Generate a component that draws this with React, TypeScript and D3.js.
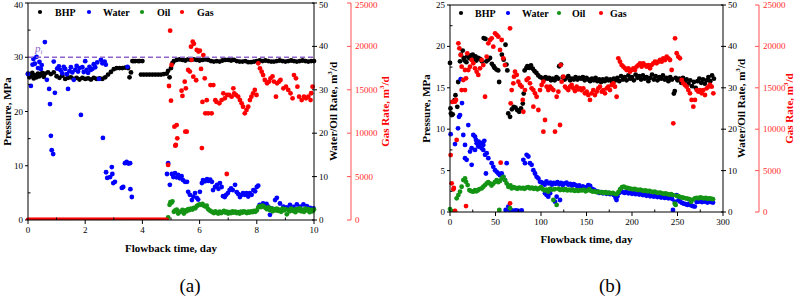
import * as d3 from "d3";

type Pt = [number, number];

// ---------- panel (a): days, MPa, m3/d ----------
const A_BHP: Pt[] = [
  [0, 27.0], [0.05, 26.3], [0.1, 26.6], [0.15, 27.1], [0.2, 26.1], [0.25, 26.7], [0.3, 26.3], [0.35, 27.0],
  [0.4, 26.5], [0.45, 26.9], [0.5, 27.1], [0.55, 26.4], [0.6, 27.0], [0.7, 27.2], [0.8, 26.9], [0.9, 27.2],
  [1.0, 26.5], [1.1, 26.2], [1.2, 26.6], [1.3, 26.0], [1.4, 26.2], [1.5, 26.3], [1.6, 26.0], [1.7, 26.2],
  [1.8, 25.9], [1.9, 26.2], [2.0, 26.0], [2.1, 26.1], [2.2, 25.9], [2.3, 26.2], [2.4, 26.0], [2.5, 26.1],
  [2.6, 26.0], [2.7, 26.3], [2.8, 26.8], [2.9, 27.3], [3.0, 27.8], [3.1, 28.0], [3.2, 28.0], [3.3, 28.0],
  [3.4, 28.1], [3.5, 28.0], [3.55, 26.3], [3.6, 27.2], [3.65, 29.3], [3.7, 29.3], [3.75, 29.3], [3.85, 29.3],
  [3.9, 29.3], [3.95, 26.8], [4.0, 29.3], [4.05, 26.8], [4.15, 26.8], [4.25, 26.8], [4.35, 26.8], [4.45, 26.8],
  [4.55, 26.8], [4.65, 26.8], [4.75, 26.9], [4.85, 27.0], [4.9, 27.5], [4.95, 26.3], [5.0, 28.0], [5.05, 28.9],
  [5.1, 29.3], [5.2, 29.5], [5.3, 29.6], [5.4, 29.5], [5.5, 29.4], [5.6, 29.6], [5.7, 29.5], [5.8, 29.6],
  [5.9, 29.5], [6.0, 29.4], [6.1, 29.5], [6.2, 29.6], [6.3, 29.5], [6.4, 29.3], [6.5, 29.2], [6.6, 29.3],
  [6.7, 29.2], [6.8, 29.4], [6.9, 29.5], [7.0, 29.5], [7.1, 29.4], [7.2, 29.5], [7.3, 29.3], [7.4, 29.2],
  [7.5, 29.2], [7.6, 29.3], [7.7, 29.1], [7.8, 29.1], [7.9, 29.2], [8.0, 29.3], [8.1, 29.4], [8.2, 29.3],
  [8.3, 29.4], [8.4, 29.3], [8.5, 29.2], [8.6, 29.2], [8.7, 29.3], [8.8, 29.4], [8.9, 29.3], [9.0, 29.2],
  [9.1, 29.3], [9.2, 29.4], [9.3, 29.3], [9.4, 29.2], [9.5, 29.3], [9.6, 29.4], [9.7, 29.3], [9.8, 29.2],
  [9.9, 29.3], [10.0, 29.3],
];

const A_WATER: Pt[] = [
  [0.0, 33.6], [0.1, 30.9], [0.16, 35.8], [0.19, 37.1], [0.24, 36.0], [0.3, 37.6], [0.35, 35.0], [0.4, 36.4],
  [0.45, 34.8], [0.48, 35.7], [0.59, 41.0], [0.66, 32.3], [0.74, 30.2], [0.77, 26.7], [0.8, 19.4], [0.83, 16.1],
  [0.88, 15.2], [0.9, 36.5], [0.94, 29.3], [1.02, 34.9], [1.08, 35.4], [1.14, 34.5], [1.2, 33.8], [1.25, 35.3],
  [1.3, 34.8], [1.36, 33.6], [1.4, 30.2], [1.45, 34.3], [1.5, 35.2], [1.55, 34.0], [1.6, 32.3], [1.65, 34.6],
  [1.7, 35.5], [1.75, 34.2], [1.8, 35.0], [1.85, 24.2], [1.9, 35.2], [1.95, 34.1], [2.0, 36.6], [2.05, 34.6],
  [2.1, 33.9], [2.15, 35.3], [2.2, 34.6], [2.25, 34.8], [2.3, 35.9], [2.35, 35.2], [2.42, 36.3], [2.48, 32.5],
  [2.55, 36.9], [2.6, 36.1], [2.62, 18.9], [2.68, 36.5], [2.72, 35.8], [2.73, 11.0], [2.77, 9.7], [2.87, 9.9],
  [2.93, 12.2], [2.95, 10.6], [2.98, 8.5], [3.04, 8.8], [3.28, 7.4], [3.33, 7.6], [3.39, 13.1], [3.45, 13.4],
  [3.48, 35.3], [3.51, 13.0], [3.57, 13.1], [3.58, 7.1], [3.63, 5.3], [4.86, 10.6], [4.9, 13.1], [4.96, 8.1],
  [5.03, 10.6], [5.08, 9.9], [5.14, 10.8], [5.2, 9.8], [5.25, 10.4], [5.31, 9.6], [5.37, 10.1], [5.42, 9.2],
  [5.49, 8.8], [5.56, 8.8], [5.6, 6.5], [5.66, 5.8], [5.73, 4.6], [5.78, 5.4], [5.84, 6.2], [5.9, 5.1],
  [5.95, 4.7], [6.01, 6.5], [6.08, 8.5], [6.12, 9.2], [6.19, 8.9], [6.26, 9.4], [6.31, 9.0], [6.37, 9.3],
  [6.43, 8.8], [6.47, 6.9], [6.54, 7.6], [6.61, 8.1], [6.66, 7.2], [6.71, 8.5], [6.77, 7.6], [6.82, 5.5],
  [6.88, 5.3], [6.93, 5.8], [6.99, 6.2], [7.05, 6.9], [7.1, 7.3], [7.16, 6.9], [7.24, 8.1], [7.3, 6.4],
  [7.35, 6.0], [7.41, 5.3], [7.47, 5.8], [7.52, 6.2], [7.58, 5.8], [7.64, 6.2], [7.7, 5.4], [7.76, 6.2],
  [7.82, 5.8], [7.88, 6.9], [7.94, 6.6], [8.0, 7.6], [8.05, 7.9], [8.1, 3.5], [8.22, 3.8], [8.34, 3.7],
  [8.4, 3.1], [8.46, 1.2], [8.52, 2.7], [8.64, 4.6], [8.7, 5.1], [8.81, 3.8], [8.93, 3.1], [9.05, 2.9],
  [9.16, 3.5], [9.28, 3.0], [9.4, 3.6], [9.51, 3.1], [9.63, 3.6], [9.75, 3.2], [9.86, 2.8], [9.98, 2.7],
];

const A_OIL: Pt[] = [
  [4.9, 0.6], [4.95, 3.5], [4.98, 4.1], [5.02, 4.0], [5.05, 4.3], [5.1, 1.9], [5.15, 2.2], [5.2, 2.4],
  [5.25, 1.5], [5.3, 1.8], [5.35, 2.0], [5.4, 2.3], [5.45, 1.5], [5.5, 2.2], [5.55, 2.0], [5.6, 2.5],
  [5.65, 2.3], [5.7, 2.6], [5.75, 2.4], [5.8, 2.8], [5.85, 2.7], [5.9, 3.2], [5.95, 3.4], [6.0, 3.6],
  [6.05, 3.5], [6.1, 3.7], [6.15, 3.3], [6.2, 3.1], [6.25, 3.3], [6.3, 2.5], [6.35, 2.2], [6.4, 2.0],
  [6.45, 1.8], [6.5, 1.6], [6.55, 2.0], [6.6, 1.7], [6.65, 1.5], [6.7, 1.9], [6.75, 1.6], [6.8, 1.8],
  [6.85, 2.1], [6.9, 1.7], [6.95, 1.9], [7.0, 1.5], [7.05, 1.8], [7.1, 1.6], [7.15, 2.0], [7.2, 1.7],
  [7.25, 1.9], [7.3, 1.6], [7.35, 1.8], [7.4, 1.5], [7.45, 1.9], [7.5, 1.7], [7.55, 2.0], [7.6, 1.8],
  [7.65, 1.6], [7.7, 1.9], [7.75, 1.7], [7.8, 2.0], [7.85, 1.8], [7.9, 2.1], [7.95, 1.9], [8.0, 2.2],
  [8.05, 2.9], [8.1, 3.2], [8.15, 3.0], [8.2, 3.3], [8.25, 3.1], [8.3, 2.8], [8.35, 2.5], [8.4, 2.9],
  [8.45, 2.3], [8.5, 2.7], [8.55, 2.0], [8.6, 2.5], [8.65, 2.2], [8.7, 2.6], [8.75, 2.1], [8.8, 2.4],
  [8.85, 1.9], [8.9, 2.6], [8.95, 2.2], [9.0, 2.5], [9.05, 1.3], [9.1, 2.3], [9.15, 2.0], [9.2, 2.6],
  [9.25, 2.1], [9.3, 2.4], [9.35, 1.8], [9.4, 2.5], [9.45, 2.2], [9.5, 2.7], [9.55, 2.0], [9.6, 2.4],
  [9.65, 1.9], [9.7, 2.6], [9.75, 2.2], [9.8, 2.5], [9.85, 1.8], [9.9, 2.3], [9.95, 2.0], [10.0, 2.4],
];

const A_GAS: Pt[] = [
  [0, 0], [0.05, 0], [0.1, 0], [0.15, 0], [0.2, 0], [0.25, 0], [0.3, 0], [0.35, 0], [0.4, 0], [0.45, 0],
  [0.5, 0], [0.55, 0], [0.6, 0], [0.65, 0], [0.7, 0], [0.75, 0], [0.8, 0], [0.85, 0], [0.9, 0], [0.95, 0],
  [1.0, 0], [1.05, 0], [1.1, 0], [1.15, 0], [1.2, 0], [1.25, 0], [1.3, 0], [1.35, 0], [1.4, 0], [1.45, 0],
  [1.5, 0], [1.55, 0], [1.6, 0], [1.65, 0], [1.7, 0], [1.75, 0], [1.8, 0], [1.85, 0], [1.9, 0], [1.95, 0],
  [2.0, 0], [2.05, 0], [2.1, 0], [2.15, 0], [2.2, 0], [2.25, 0], [2.3, 0], [2.35, 0], [2.4, 0], [2.45, 0],
  [2.5, 0], [2.55, 0], [2.6, 0], [2.65, 0], [2.7, 0], [2.75, 0], [2.8, 0], [2.85, 0], [2.9, 0], [2.95, 0],
  [3.0, 0], [3.05, 0], [3.1, 0], [3.15, 0], [3.2, 0], [3.25, 0], [3.3, 0], [3.35, 0], [3.4, 0], [3.45, 0],
  [3.5, 0], [3.55, 0], [3.6, 0], [3.65, 0], [3.7, 0], [3.75, 0], [3.8, 0], [3.85, 0], [3.9, 0], [3.95, 0],
  [4.0, 0], [4.05, 0], [4.1, 0], [4.15, 0], [4.2, 0], [4.25, 0], [4.3, 0], [4.35, 0], [4.4, 0], [4.45, 0],
  [4.5, 0], [4.55, 0], [4.6, 0], [4.65, 0], [4.7, 0], [4.75, 0], [4.8, 0], [4.85, 0],
  [4.9, 6340], [4.93, 15440], [4.97, 21810], [5.0, 13750], [5.02, 17860], [5.12, 10750], [5.15, 8560],
  [5.17, 8640], [5.2, 10940], [5.22, 9410], [5.37, 14900], [5.4, 14300], [5.48, 15940], [5.5, 10170],
  [5.52, 15170], [5.55, 10170], [5.6, 17280], [5.66, 17100], [5.7, 19970], [5.72, 18450], [5.76, 20540],
  [5.78, 16510], [5.8, 20300], [5.88, 16100], [5.9, 19590], [5.96, 19400], [6.01, 19500], [6.05, 17400],
  [6.08, 8290], [6.1, 13600], [6.13, 19000], [6.18, 16320], [6.2, 12290], [6.25, 13800], [6.3, 12290],
  [6.38, 15550], [6.42, 12290], [6.48, 15550], [6.55, 13800], [6.59, 13600], [6.69, 13440], [6.77, 13820],
  [6.83, 14590], [6.88, 14020], [6.95, 5300], [6.96, 14400], [7.03, 14400], [7.12, 14210], [7.18, 15170],
  [7.21, 14590], [7.27, 14400], [7.35, 14210], [7.41, 13820], [7.47, 13440], [7.52, 13050], [7.58, 12290],
  [7.64, 12670], [7.7, 13050], [7.76, 13820], [7.81, 14210], [7.87, 14590], [7.93, 14980], [7.99, 14400],
  [8.05, 18050], [8.11, 17470], [8.17, 17090], [8.22, 16700], [8.28, 16130], [8.36, 15750], [8.43, 15950],
  [8.48, 16320], [8.55, 16550], [8.6, 15950], [8.67, 14210], [8.71, 15750], [8.78, 15950], [8.83, 16130],
  [8.93, 15170], [9.02, 15360], [9.1, 14980], [9.18, 14590], [9.25, 14020], [9.3, 16700], [9.37, 16320],
  [9.42, 15360], [9.48, 14210], [9.57, 13820], [9.65, 14210], [9.72, 14020], [9.8, 14210], [9.88, 13820],
  [9.9, 14600], [9.95, 15360],
];

// ---------- panel (b) ----------
const B_BHP: Pt[] = [
  [0, 18.0], [0.5, 12.5], [1, 11.9], [2, 11.7], [3, 11.8], [5, 13.5], [6, 14.1], [8, 12.7], [9, 15.7],
  [11, 18.2], [12, 19.0], [14, 19.5], [15, 18.6], [16, 18.3], [18, 18.1], [19, 18.8], [21, 18.6], [23, 18.9],
  [24, 18.4], [25, 19.0], [27, 18.5], [28, 18.8], [29, 18.3], [31, 18.6], [33, 18.5], [35, 18.2], [37, 21.0],
  [39, 20.9], [40, 18.2], [42, 18.4], [44, 18.6], [46, 17.9], [48, 17.6], [49, 17.4], [51, 17.2], [53, 17.1],
  [54, 15.7], [57, 19.0], [59, 18.4], [61, 20.2], [62, 17.8], [63, 17.1], [64, 11.9], [66, 11.5], [68, 12.4],
  [70, 12.7], [72, 12.6], [74, 12.3], [76, 12.1], [78, 12.5], [80, 13.1], [81, 14.3], [82, 17.1], [84, 17.4],
  [85, 17.6], [87, 17.4], [89, 17.7], [91, 17.3], [93, 17.0], [95, 16.8], [97, 16.5], [99, 16.3], [101, 16.2],
  [103, 16.0], [105, 16.3], [107, 16.1], [109, 16.2], [111, 15.9], [113, 16.1], [115, 15.9], [117, 16.3],
  [119, 16.1], [120, 17.6], [122, 17.8], [124, 16.3], [126, 16.0], [128, 16.2], [130, 16.4], [132, 15.9],
  [134, 16.1], [136, 16.0], [138, 16.3], [140, 16.0], [142, 16.2], [144, 16.1], [146, 16.3], [148, 15.9],
  [150, 16.2], [152, 16.0], [154, 15.8], [156, 16.1], [158, 15.9], [160, 16.2], [162, 15.8], [164, 16.0],
  [166, 15.7], [168, 16.0], [170, 15.8], [172, 16.1], [174, 15.9], [176, 16.0], [178, 15.7], [180, 16.1],
  [182, 15.9], [184, 16.2], [186, 15.8], [188, 16.4], [190, 16.0], [192, 16.3], [194, 15.9], [196, 16.5],
  [198, 16.1], [200, 16.3], [202, 15.9], [204, 16.6], [206, 16.2], [208, 16.4], [210, 16.0], [212, 16.5],
  [214, 16.1], [216, 16.3], [218, 15.8], [220, 16.2], [222, 16.6], [224, 16.0], [226, 16.4], [228, 15.9],
  [230, 16.3], [232, 16.1], [234, 16.5], [236, 16.0], [238, 16.2], [240, 15.8], [242, 16.3], [244, 16.0],
  [246, 14.3], [247, 14.6], [248, 16.2], [250, 15.9], [252, 16.1], [254, 15.6], [256, 16.2], [258, 15.8],
  [260, 16.0], [262, 15.5], [264, 15.9], [266, 15.2], [268, 15.7], [270, 15.0], [272, 15.8], [274, 16.1],
  [276, 15.6], [278, 16.0], [280, 15.5], [282, 15.9], [284, 16.3], [286, 15.8], [288, 16.5], [290, 16.1],
];

const B_WATER: Pt[] = [
  [0.7, 18.8], [5.5, 16.4], [8.8, 20.2], [9.9, 23.0], [11, 23.4], [11.7, 32.1], [13.2, 26.3], [14.6, 18.6],
  [16.5, 16.2], [16.5, 13.0], [18.3, 12.6], [20.1, 21.0], [22, 14.6], [23.8, 15.4], [23.8, 11.4], [25.6, 18.6],
  [27.5, 18.2], [27.5, 15.0], [28.6, 17.4], [29.3, 16.6], [30, 16.6], [31.1, 15.8], [31.5, 17.0], [33, 16.4],
  [34.8, 16.7], [34.8, 15.4], [36.6, 16.2], [36.6, 15.0], [37.7, 17.2], [38.5, 13.8], [39.5, 9.3], [40.3, 14.2],
  [42.1, 13.0], [45.8, 11.8], [47.6, 10.9], [49.5, 10.1], [51.3, 9.7], [53.1, 9.3], [54.9, 8.9], [56.8, 9.3],
  [58.6, 8.5], [60.4, 7.7], [61.2, 0.5], [62.3, 11.8], [64.1, 1.3], [66, 0.3], [68, 0.4], [70, 0.2], [72, 0.4],
  [74, 0.3], [76, 0.2], [78.7, 0.4], [80.6, 12.6], [82.4, 11.8], [84.2, 13.8], [86.1, 13.4], [87.9, 11.8],
  [89.7, 11.4], [91.6, 10.1], [93.4, 9.3], [95.2, 8.5], [97.1, 8.1], [98.9, 7.3], [100, 7.2], [102, 7.0],
  [104, 6.6], [104.4, 4.5], [106, 7.4], [106.2, 4.1], [108, 3.7], [108.5, 6.9], [110, 4.5], [110.5, 7.1],
  [112, 6.6], [114, 7.0], [115.4, 2.5], [116, 6.8], [117.2, 3.7], [118, 7.2], [120, 6.7], [120.9, 2.9],
  [122, 7.0], [124, 6.5], [126, 6.9], [128, 7.1], [130, 6.6], [132, 6.8], [134, 6.4], [136, 6.7], [138, 6.5],
  [140, 6.2], [142, 6.4], [144, 5.9], [146, 6.2], [148, 5.7], [150, 6.0], [152, 6.5], [154, 6.3], [156, 5.6],
  [158, 5.4], [160, 5.1], [162, 4.9], [164, 4.6], [166, 4.8], [168, 4.5], [170, 4.7], [172, 4.4], [174, 4.6],
  [176, 4.3], [178, 4.5], [180, 4.1], [182, 3.4], [183, 2.9], [184, 3.8], [186, 4.6], [188, 5.1], [190, 4.8],
  [192, 4.6], [194, 4.9], [196, 4.5], [198, 4.7], [200, 4.4], [202, 4.6], [204, 4.3], [206, 4.5], [208, 4.2],
  [210, 4.4], [212, 4.1], [214, 4.3], [216, 3.9], [218, 4.2], [220, 3.8], [222, 4.0], [224, 3.7], [226, 3.9],
  [228, 3.6], [230, 3.8], [232, 3.5], [234, 3.7], [236, 3.4], [238, 3.6], [240, 3.3], [242, 3.5], [244, 3.2],
  [245, 0.5], [247, 2.5], [249, 4.1], [251, 2.8], [253, 2.5], [255, 2.2], [257, 2.0], [259, 1.9], [261, 1.7],
  [263, 2.0], [265, 1.6], [267, 1.4], [269, 1.3], [271, 2.4], [273, 2.5], [275, 2.6], [277, 2.4], [279, 2.6],
  [281, 2.5], [283, 2.3], [285, 2.6], [287, 2.4], [289, 2.3],
];

const B_OIL: Pt[] = [
  [0, 0.7], [1.8, 0.2], [5.5, 0.2], [7.3, 3.3], [9.2, 4.1], [11, 4.9], [12.8, 6.1], [14.6, 7.7], [16.5, 8.1],
  [17.6, 7.3], [19.4, 6.5], [21.2, 5.3], [22.7, 5.1], [24.9, 4.9], [26.2, 5.0], [27.5, 5.3], [29, 5.0],
  [30.5, 5.2], [32.2, 5.5], [34.8, 5.7], [36.6, 6.1], [38.5, 6.5], [40.3, 6.9], [42, 7.2], [43.8, 6.9],
  [45.6, 6.4], [47.5, 6.8], [49.5, 7.3], [51.3, 7.7], [53, 7.2], [54.2, 0.5], [55, 7.5], [56.8, 8.1],
  [58.6, 8.5], [60.5, 7.7], [62.3, 6.9], [64.1, 6.1], [66, 0.9], [66.5, 6.4], [67.8, 5.7], [70, 6.0],
  [72, 5.8], [74, 5.6], [76, 5.9], [78, 5.7], [80, 5.8], [82, 5.6], [84, 5.9], [86, 6.0], [88, 5.7], [90, 5.9],
  [92, 5.6], [94, 5.8], [96, 5.5], [98, 5.7], [100, 6.0], [102, 5.5], [104, 5.2], [106, 5.4], [108, 4.9],
  [110, 5.6], [112, 5.4], [113.6, 2.9], [115, 5.5], [117.2, 1.7], [119, 5.6], [121, 5.3], [123, 5.5],
  [125, 5.3], [127, 5.5], [129, 5.2], [131, 5.4], [133, 5.2], [135, 5.4], [137, 5.1], [139, 5.3], [141, 5.1],
  [143, 5.3], [145, 5.2], [147, 5.4], [149, 5.0], [151, 5.2], [153, 5.5], [155, 5.1], [157, 4.9], [159, 5.0],
  [161, 4.8], [163, 4.9], [165, 4.7], [167, 4.8], [169, 4.6], [171, 4.8], [173, 4.5], [175, 4.7], [177, 4.5],
  [179, 4.6], [181, 4.4], [183, 4.3], [185, 4.8], [187, 5.5], [189, 6.0], [191, 6.1], [193, 5.9], [195, 5.8],
  [197, 5.7], [199, 5.6], [201, 5.5], [203, 5.6], [205, 5.4], [207, 5.3], [209, 5.4], [211, 5.2], [213, 5.1],
  [215, 5.2], [217, 5.0], [219, 5.1], [221, 4.9], [223, 4.8], [225, 4.9], [227, 4.7], [229, 4.6], [231, 4.7],
  [233, 4.5], [235, 4.4], [237, 4.5], [239, 4.3], [241, 4.2], [243, 4.3], [245, 4.1], [247, 2.0], [248, 1.7],
  [249, 3.9], [251, 3.8], [253, 3.6], [255, 3.5], [257, 3.4], [259, 3.3], [261, 3.2], [263, 3.1], [265, 2.5],
  [267, 3.0], [269, 3.3], [271, 3.4], [273, 3.3], [275, 3.5], [277, 3.4], [279, 3.3], [281, 3.4], [283, 3.2],
  [285, 3.3], [287, 3.2], [289, 3.1],
];

const B_GAS: Pt[] = [
  [0.7, 6880], [1.8, 3460], [3.7, 2740], [4.2, 2900], [5.5, 120], [17.6, 720], [55.7, 5960], [66, 1050],
  [2.5, 13300], [5.5, 13320], [6.6, 13530], [7.3, 8700], [9.2, 20370], [10.3, 19770], [11.7, 18960],
  [12.8, 17550], [12.8, 14730], [14.6, 15940], [16.5, 17150], [16.5, 14730], [17.6, 16140], [19, 19160],
  [20.1, 17150], [22, 17550], [23.8, 18360], [25.6, 17950], [27.5, 17350], [29.3, 16950], [31.1, 16550],
  [33, 17350], [34.8, 18360], [36.6, 17750], [38.5, 13920], [40.3, 18760], [42.1, 20370], [44, 20770],
  [45.8, 20970], [47.6, 19970], [49.5, 21580], [51.3, 21380], [53.1, 21170], [55, 19570], [56.8, 20770],
  [58.6, 18560], [60.4, 17750], [66, 22180], [66.7, 13130], [67.8, 14730], [69.6, 15540], [70.3, 16340],
  [71.4, 16950], [73.3, 16550], [75.1, 15740], [77, 15340], [78.8, 15130], [79.9, 13530], [80.6, 12110],
  [82.4, 14730], [84.2, 15940], [86.1, 16140], [87.9, 15540], [89.7, 14940], [91.6, 14730], [91.6, 12720],
  [93.4, 14330], [95.2, 13920], [97.1, 12320], [98.9, 14730], [100.7, 15340], [102.6, 9700], [102.6, 15740],
  [104.4, 11110], [106.2, 15130], [108, 14730], [110, 15130], [111.7, 14940], [113.6, 14730], [115.4, 9700],
  [117.2, 13920], [119.1, 14530], [120.9, 10510], [121.6, 17750], [122.7, 15740], [124.5, 16340],
  [126.4, 15130], [128.2, 14940], [130, 14730], [131.9, 15130], [133.7, 15340], [135.5, 14940],
  [137.3, 14600], [139.2, 15130], [141, 14800], [142.9, 14940], [144.7, 14700], [146.5, 14940],
  [148.3, 14330], [150.2, 14530], [152, 14130], [153.8, 13530], [155.6, 14330], [157.5, 14730],
  [159.3, 14130], [161.2, 14530], [163, 14940], [164.8, 15130], [166.7, 14530], [168.5, 14730],
  [170.3, 14330], [172.2, 14940], [174, 15130], [175.8, 14730], [177.7, 15340], [179.5, 15540],
  [181.3, 15130], [183.1, 13920], [185, 18560], [186.8, 18160], [188.6, 17750], [190.5, 17550],
  [192.3, 17350], [194.1, 17150], [196, 17350], [197.8, 16950], [199.6, 17150], [201.5, 17350],
  [203.3, 17150], [205.1, 17550], [207, 17750], [208.8, 17950], [210.6, 17550], [212.5, 17950],
  [214.3, 17750], [216.1, 17550], [218, 17750], [219.8, 17350], [221.6, 17750], [223.4, 17950],
  [225.3, 18160], [227.1, 17950], [228.9, 18160], [230.8, 18360], [232.6, 18160], [234.4, 18560],
  [236.3, 18360], [238.1, 18760], [240, 18560], [241.8, 18360], [243.6, 17150], [245.4, 10710],
  [247.3, 20970], [249.1, 19170], [250.9, 18760], [252.7, 18560], [254.6, 15940], [256.4, 15540],
  [258.2, 15340], [260.1, 15130], [261.9, 14730], [263.7, 14330], [265.5, 13530], [267.4, 12720],
  [269.2, 13530], [271.1, 14730], [272.9, 14530], [274.7, 14730], [276.6, 14330], [278.4, 14730],
  [280.2, 14130], [282.1, 14940], [283.9, 15130], [285.7, 15340], [287.6, 15130], [289.4, 14330],
];

// ---------- ticks ----------
const A_X_TICKS = [0, 2, 4, 6, 8, 10];
const A_P_TICKS = [0, 10, 20, 30, 40];
const B_X_TICKS = [0, 50, 100, 150, 200, 250, 300];
const B_P_TICKS = [0, 5, 10, 15, 20, 25];
const RATE_TICKS = [0, 10, 20, 30, 40, 50];
const GAS_TICKS = [0, 5000, 10000, 15000, 20000, 25000];
const PI_PRESSURE = 30;

const SERIES = ["BHP", "Water", "Oil", "Gas"];
const COLORS: Record<string, string> = {
  BHP: "#000000",
  Water: "#0000ff",
  Oil: "#149414",
  Gas: "#ff0000",
};

const FONT = "'Liberation Serif', 'Times New Roman', serif";
const GAS_AXIS = "#ff5050";

interface PanelProps {
  id: string;
  left: number; right: number; top: number; bottom: number; gasX: number;
  xMax: number; pMax: number; xTicks: number[]; pTicks: number[];
  data: Record<string, Pt[]>;
  legendX: number[]; legendTextX: number[]; legendY: number;
  pLabelX: number; rateLabelX: number; gasLabelX: number; xLabelY: number;
  tag: string; tagX: number; pi?: number;
}

// keep tick labels at the very top inside the picture
const labelY = (y: number) => Math.max(y + 3, 7.5);

const Panel = (p: PanelProps) => {
  const x = d3.scaleLinear().domain([0, p.xMax]).range([p.left, p.right]);
  const yP = d3.scaleLinear().domain([0, p.pMax]).range([p.bottom, p.top]);
  const yR = d3.scaleLinear().domain([0, 50]).range([p.bottom, p.top]);
  const yG = d3.scaleLinear().domain([0, 25000]).range([p.bottom, p.top]);
  const yFor = (s: string) => (s === "BHP" ? yP : s === "Gas" ? yG : yR);
  const midY = (p.top + p.bottom) / 2;
  const xMinor = d3.pairs(p.xTicks).map(([a, b]) => (a + b) / 2);
  const pMinor = d3.pairs(p.pTicks).map(([a, b]) => (a + b) / 2);

  return (
    <g fontFamily={FONT}>
      <defs>
        <clipPath id={p.id}>
          <rect x={p.left - 3} y={p.top - 3} width={p.right - p.left + 6} height={p.bottom - p.top + 3} />
        </clipPath>
      </defs>

      {/* points */}
      <g clipPath={`url(#${p.id})`}>
        {SERIES.map((s) => (
          <g key={s} fill={COLORS[s]}>
            {p.data[s].map((d, i) => (
              <circle key={i} cx={x(d[0])} cy={yFor(s)(d[1])} r={2.4} />
            ))}
          </g>
        ))}
      </g>

      {p.pi !== undefined && (
        <g>
          <line x1={p.left} x2={p.right} y1={yP(p.pi)} y2={yP(p.pi)}
            stroke="#8e63cc" strokeWidth={1.4} strokeDasharray="5,3" />
          <text x={p.left + 7} y={yP(p.pi) - 5} fill="#8e63cc" fontStyle="italic" fontSize={11}>
            p<tspan fontSize={7} dy={2}>i</tspan>
          </text>
        </g>
      )}

      {/* frame */}
      <rect x={p.left} y={p.top} width={p.right - p.left} height={p.bottom - p.top}
        fill="none" stroke="#000" strokeWidth={1} />

      {/* bottom axis */}
      {p.xTicks.map((t) => (
        <g key={t}>
          <line x1={x(t)} x2={x(t)} y1={p.bottom} y2={p.bottom + 4} stroke="#000" />
          <text x={x(t)} y={p.bottom + 13} textAnchor="middle" fontSize={9}>{t}</text>
        </g>
      ))}
      {xMinor.map((t) => (
        <line key={t} x1={x(t)} x2={x(t)} y1={p.bottom} y2={p.bottom - 2.5} stroke="#000" />
      ))}

      {/* left pressure axis */}
      {p.pTicks.map((t) => (
        <g key={t}>
          <line x1={p.left - 3} x2={p.left} y1={yP(t)} y2={yP(t)} stroke="#000" />
          <text x={p.left - 5} y={labelY(yP(t))} textAnchor="end" fontSize={9}>{t}</text>
        </g>
      ))}
      {pMinor.map((t) => (
        <line key={t} x1={p.left} x2={p.left + 2.5} y1={yP(t)} y2={yP(t)} stroke="#000" />
      ))}

      {/* right water/oil axis */}
      {RATE_TICKS.map((t) => (
        <g key={t}>
          <line x1={p.right - 2} x2={p.right + 3} y1={yR(t)} y2={yR(t)} stroke="#000" />
          <text x={p.right + 5} y={labelY(yR(t))} fontSize={9}>{t}</text>
        </g>
      ))}

      {/* gas axis */}
      <line x1={p.gasX} x2={p.gasX} y1={p.top} y2={p.bottom} stroke={GAS_AXIS} />
      {GAS_TICKS.map((t) => (
        <g key={t}>
          <line x1={p.gasX - 4} x2={p.gasX} y1={yG(t)} y2={yG(t)} stroke={GAS_AXIS} />
          <text x={p.gasX + 4} y={labelY(yG(t))} fontSize={9} fill="#ff2a2a">{t}</text>
        </g>
      ))}

      {/* axis titles */}
      <text transform={`translate(${p.pLabelX},${midY}) rotate(-90)`} textAnchor="middle"
        fontSize={11} fontWeight="bold" dominantBaseline="middle">Pressure, MPa</text>
      <text transform={`translate(${p.rateLabelX},${midY}) rotate(-90)`} textAnchor="middle"
        fontSize={11} fontWeight="bold" dominantBaseline="middle">
        Water/Oil Rate, m<tspan fontSize={7} dy={-4}>3</tspan><tspan dy={4}>/d</tspan>
      </text>
      <text transform={`translate(${p.gasLabelX},${midY}) rotate(-90)`} textAnchor="middle"
        fontSize={11} fontWeight="bold" fill="#ff0000" dominantBaseline="middle">
        Gas Rate, m<tspan fontSize={7} dy={-4}>3</tspan><tspan dy={4}>/d</tspan>
      </text>
      <text x={(p.left + p.right) / 2} y={p.xLabelY} textAnchor="middle" fontSize={11}
        fontWeight="bold">Flowback time, day</text>

      {/* legend */}
      {SERIES.map((s, i) => (
        <g key={s}>
          <circle cx={p.legendX[i]} cy={p.legendY} r={2.1} fill={COLORS[s]} />
          <text x={p.legendTextX[i]} y={p.legendY + 3.5} fontSize={10} fontWeight="bold">{s}</text>
        </g>
      ))}

      <text x={p.tagX} y={292} textAnchor="middle" fontSize={19}>{p.tag}</text>
    </g>
  );
};

export default function App() {
  return (
    <svg width={796} height={297} viewBox="0 0 796 297"
      style={{ position: "absolute", left: 0, top: 0, background: "#fff" }}>
      <rect width={796} height={297} fill="#fff" />
      <Panel
        id="clip-a"
        left={28} right={314} top={3} bottom={220} gasX={351}
        xMax={10} pMax={40} xTicks={A_X_TICKS} pTicks={A_P_TICKS}
        data={{ BHP: A_BHP, Water: A_WATER, Oil: A_OIL, Gas: A_GAS }}
        legendX={[40, 89, 142, 182]} legendTextX={[55, 103, 157, 197]} legendY={12}
        pLabelX={8} rateLabelX={334} gasLabelX={386} xLabelY={252}
        tag="(a)" tagX={190} pi={PI_PRESSURE}
      />
      <Panel
        id="clip-b"
        left={450} right={723} top={5} bottom={212} gasX={759}
        xMax={300} pMax={25} xTicks={B_X_TICKS} pTicks={B_P_TICKS}
        data={{ BHP: B_BHP, Water: B_WATER, Oil: B_OIL, Gas: B_GAS }}
        legendX={[461, 508, 559, 601]} legendTextX={[475, 522, 572, 610]} legendY={13}
        pLabelX={427} rateLabelX={742} gasLabelX={790} xLabelY={243}
        tag="(b)" tagX={610}
      />
    </svg>
  );
}
